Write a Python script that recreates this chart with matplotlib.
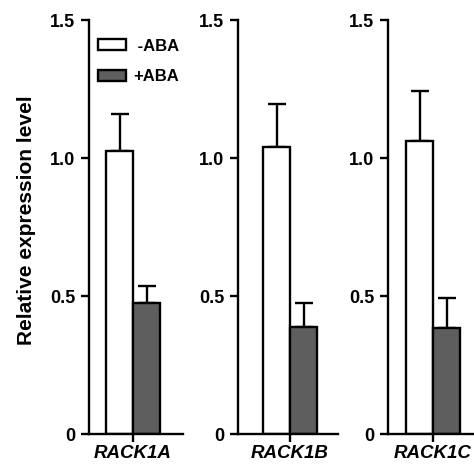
import matplotlib
matplotlib.use("Agg")
import matplotlib.pyplot as plt
from matplotlib.patches import Patch

genes = ["RACK1A", "RACK1B", "RACK1C"]
minus_aba = [1.025, 1.04, 1.062]
minus_err = [0.135, 0.155, 0.181]
plus_aba = [0.475, 0.386, 0.384]
plus_err = [0.061, 0.089, 0.109]
yticks = [0, 0.5, 1.0, 1.5]
ytick_labels = ["0", "0.5", "1.0", "1.5"]
series_labels = [" -ABA", "+ABA"]

plt.rcParams["font.family"] = ["Liberation Sans", "DejaVu Sans"]
plt.rcParams["font.weight"] = "bold"

W, H = 474, 465
fig = plt.figure(figsize=(W / 100, H / 100), dpi=100)

# panel pixel layout: (axis left px, axis right px, group center px)
panels = [(89, 183, 133), (238, 338, 290), (388, 480, 433)]
bar_px = 27.0
top_px, bot_px = 20, 434
grey = "#5e5e5e"

axes = []
for i, (lpx, rpx, cpx) in enumerate(panels):
    ax = fig.add_axes([lpx / W, (H - bot_px) / H, (rpx - lpx) / W, (bot_px - top_px) / H])
    axes.append(ax)
    ax.set_xlim((lpx - cpx) / bar_px, (rpx - cpx) / bar_px)
    ax.set_ylim(0, 1.5)
    ax.bar([-0.5], [minus_aba[i]], width=1.0, color="white", edgecolor="black",
           linewidth=1.7, zorder=2)
    ax.bar([0.5], [plus_aba[i]], width=1.0, color=grey, edgecolor="black",
           linewidth=1.7, zorder=2)
    ax.errorbar([-0.5], [minus_aba[i]], yerr=[[0], [minus_err[i]]], fmt="none",
                ecolor="black", elinewidth=1.7, capsize=6.5, capthick=1.7, zorder=1)
    ax.errorbar([0.5], [plus_aba[i]], yerr=[[0], [plus_err[i]]], fmt="none",
                ecolor="black", elinewidth=1.7, capsize=6.5, capthick=1.7, zorder=1)
    for s in ["top", "right"]:
        ax.spines[s].set_visible(False)
    for s in ["left", "bottom"]:
        ax.spines[s].set_linewidth(1.7)
    ax.set_yticks(yticks)
    ax.set_yticklabels(ytick_labels, fontsize=13, fontweight="bold")
    ax.set_xticks([0])
    ax.set_xticklabels([genes[i]], fontsize=13.5, fontweight="bold", fontstyle="italic")
    ax.tick_params(axis="y", direction="out", length=6, width=1.7, pad=4)
    ax.tick_params(axis="x", direction="out", length=6, width=1.7, pad=2)

handles = [Patch(facecolor="white", edgecolor="black", linewidth=1.7),
           Patch(facecolor=grey, edgecolor="black", linewidth=1.7)]
axes[0].legend(handles, series_labels, loc="upper left",
               bbox_to_anchor=(0.096, 0.955), frameon=False, borderpad=0,
               borderaxespad=0, handlelength=1.7, handleheight=0.65,
               handletextpad=0.4, labelspacing=0.95,
               prop={"size": 12, "weight": "bold"})

fig.text(27 / W, 1 - 220 / H, "Relative expression level", rotation=90,
         ha="center", va="center", fontsize=15, fontweight="bold")

fig.savefig("out.png", dpi=100)
